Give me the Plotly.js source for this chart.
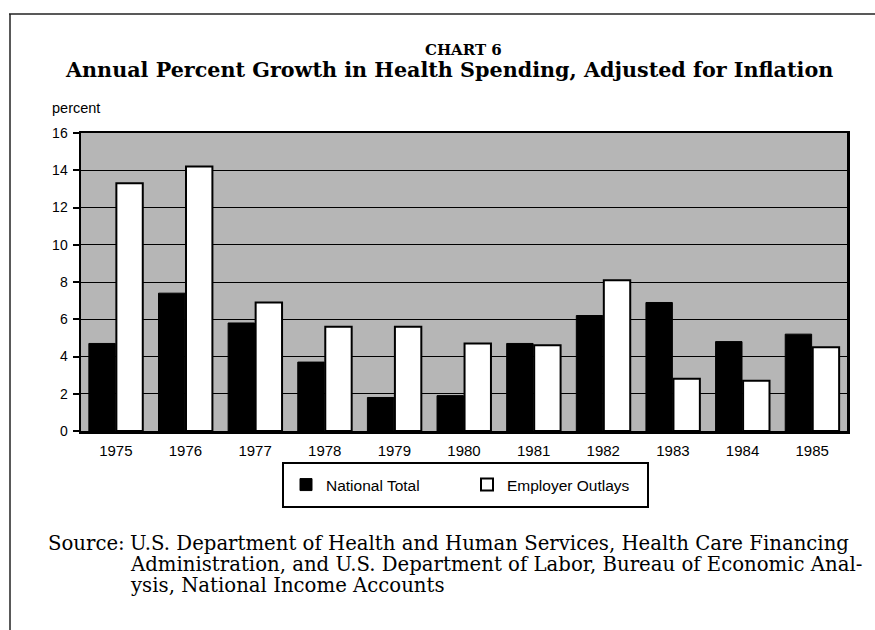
<!DOCTYPE html>
<html>
<head>
<meta charset="utf-8">
<script src="https://cdn.plot.ly/plotly-3.0.1.min.js"></script>
<style>
  html, body { margin: 0; padding: 0; background: #fff; }
  #chart { width: 875px; height: 630px; }
</style>
</head>
<body>
<div id="chart"></div>
<script>
const years = ['1975', '1976', '1977', '1978', '1979', '1980', '1981', '1982', '1983', '1984', '1985'];
const nationalTotal = [4.7, 7.4, 5.8, 3.7, 1.8, 1.9, 4.7, 6.2, 6.9, 4.8, 5.2];
const employerOutlays = [13.3, 14.2, 6.9, 5.6, 5.6, 4.7, 4.6, 8.1, 2.8, 2.7, 4.5];
const yTicks = [0, 2, 4, 6, 8, 10, 12, 14, 16];

const sans = 'Liberation Sans, Arial, sans-serif';
const serif = 'DejaVu Serif, serif';

const traces = [
    {
        name: 'National Total',
        x: years,
        y: nationalTotal,
        type: 'bar',
        marker: { color: '#000', line: { color: '#000', width: 1 } },
        hoverinfo: 'x+y'
    },
    {
        name: 'Employer Outlays',
        x: years,
        y: employerOutlays,
        type: 'bar',
        marker: { color: '#fff', line: { color: '#000', width: 2 } },
        hoverinfo: 'x+y'
    }
];

// pixel -> paper helpers (plot area: x 81..847, y 133..431)
const px = v => (v - 81) / 766;
const py = v => (431 - v) / 298;

const srcFont = { family: serif, size: 19.7, color: '#000' };

const layout = {
    width: 875,
    height: 630,
    margin: { l: 81, r: 28, t: 133, b: 199 },
    paper_bgcolor: '#fff',
    plot_bgcolor: '#b6b6b6',
    barmode: 'group',
    bargap: 0.21,
    bargroupgap: 0.04,
    font: { family: sans, color: '#000', size: 14 },
    xaxis: {
        type: 'category',
        showline: true,
        linecolor: '#000',
        linewidth: 2.5,
        mirror: true,
        ticks: '',
        ticklabelstandoff: 4,
        tickfont: { family: sans, size: 15, color: '#000' },
        showgrid: false
    },
    yaxis: {
        range: [0, 16],
        tickvals: yTicks,
        ticks: 'outside',
        ticklen: 6,
        tickwidth: 2,
        tickcolor: '#000',
        showline: true,
        linecolor: '#000',
        linewidth: 2.5,
        mirror: true,
        showgrid: true,
        gridcolor: '#000',
        gridwidth: 1,
        zeroline: false,
        ticklabelstandoff: 2,
        tickfont: { family: sans, size: 14, color: '#000' }
    },
    showlegend: true,
    legend: {
        orientation: 'h',
        x: px(286),
        xanchor: 'left',
        y: py(485),
        yanchor: 'middle',
        borderwidth: 0,
        bgcolor: 'rgba(0,0,0,0)',
        font: { family: sans, size: 15.5, color: '#000' },
        entrywidth: 136,
        traceorder: 'normal'
    },
    annotations: [
        { text: '<b>CHART 6</b>', xref: 'paper', yref: 'paper', x: px(463), y: py(50),
          xanchor: 'center', yanchor: 'middle', showarrow: false,
          font: { family: serif, size: 15, color: '#000' } },
        { text: '<b>Annual Percent Growth in Health Spending, Adjusted for Inflation</b>',
          xref: 'paper', yref: 'paper', x: px(449), y: py(70),
          xanchor: 'center', yanchor: 'middle', showarrow: false,
          font: { family: serif, size: 20.7, color: '#000' } },
        { text: 'percent', xref: 'paper', yref: 'paper', x: px(50), y: py(108),
          xanchor: 'left', yanchor: 'middle', showarrow: false,
          font: { family: sans, size: 14.5, color: '#000' } },
        { text: 'Source:', xref: 'paper', yref: 'paper', x: px(46), y: py(543),
          xanchor: 'left', yanchor: 'middle', showarrow: false, font: srcFont },
        { text: 'U.S. Department of Health and Human Services, Health Care Financing',
          xref: 'paper', yref: 'paper', x: px(128), y: py(543),
          xanchor: 'left', yanchor: 'middle', showarrow: false, font: srcFont },
        { text: 'Administration, and U.S. Department of Labor, Bureau of Economic Anal-',
          xref: 'paper', yref: 'paper', x: px(128), y: py(564),
          xanchor: 'left', yanchor: 'middle', showarrow: false, font: srcFont },
        { text: 'ysis, National Income Accounts',
          xref: 'paper', yref: 'paper', x: px(128), y: py(585),
          xanchor: 'left', yanchor: 'middle', showarrow: false, font: srcFont }
    ],
    shapes: [
        // page frame, top and left edges
        { type: 'line', xref: 'paper', yref: 'paper', x0: px(9), x1: px(875), y0: py(14), y1: py(14),
          line: { color: '#222', width: 1.5 } },
        { type: 'line', xref: 'paper', yref: 'paper', x0: px(10), x1: px(10), y0: py(14), y1: py(630),
          line: { color: '#222', width: 1.5 } },
        // legend box
        { type: 'rect', xref: 'paper', yref: 'paper', x0: px(283), x1: px(648), y0: py(463), y1: py(507),
          line: { color: '#000', width: 2 }, fillcolor: '#fff', layer: 'below' }
    ]
};

Plotly.newPlot('chart', traces, layout, { displayModeBar: false, staticPlot: true });
</script>
</body>
</html>
